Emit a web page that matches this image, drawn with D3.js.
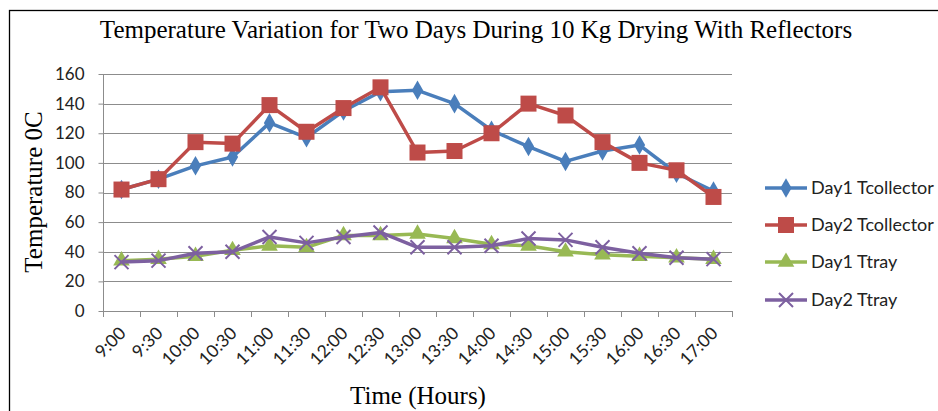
<!DOCTYPE html>
<html>
<head>
<meta charset="utf-8">
<script src="https://cdn.jsdelivr.net/npm/d3@7"></script>
<style>
  html, body { margin: 0; padding: 0; background: #fff; }
  svg { display: block; }
</style>
</head>
<body>
<svg id="chart" width="938" height="411"></svg>
<script>
const categories = ["9:00","9:30","10:00","10:30","11:00","11:30","12:00","12:30","13:00","13:30","14:00","14:30","15:00","15:30","16:00","16:30","17:00"];
const day1Tcollector = [82, 89, 98, 104, 127, 117, 135, 148, 149, 140, 122, 111, 101, 108, 112, 93, 81];
const day2Tcollector = [82, 89, 114, 113, 139, 121, 137, 151, 107, 108, 120, 140, 132, 114, 100, 95, 77];
const day1Ttray = [34, 35, 37, 41, 44, 43, 51, 51, 52, 49, 45, 44, 40, 38, 37, 36, 35];
const day2Ttray = [33, 34, 39, 40, 50, 46, 50, 53, 43, 43, 44, 49, 48, 43, 39, 36, 35];
const yTicks = [0, 20, 40, 60, 80, 100, 120, 140, 160];
const seriesNames = ["Day1 Tcollector", "Day2 Tcollector", "Day1 Ttray", "Day2 Ttray"];
const seriesColors = ["#4a7ebb", "#be4b48", "#98b954", "#7d60a0"];
const seriesShapes = ["diamond", "square", "triangle", "cross"];

(function () {
const series = [day1Tcollector, day2Tcollector, day1Ttray, day2Ttray].map((v, i) => ({
  name: seriesNames[i], values: v, color: seriesColors[i], shape: seriesShapes[i]
}));

const svg = d3.select("#chart");
const pLeft = 103, pRight = 732, pTop = 74, pBottom = 311;
const sans = "Lato, 'Open Sans', sans-serif";
const serif = "'Liberation Serif', 'Times New Roman', serif";

svg.append("rect").attr("x", 9.5).attr("y", 10.5).attr("width", 940).attr("height", 420)
  .attr("fill", "none").attr("stroke", "#000").attr("stroke-width", 1.3);

const x = d3.scaleBand().domain(categories).range([pLeft, pRight]).padding(0);
const y = d3.scaleLinear().domain([0, 160]).range([pBottom, pTop]);

svg.append("g").selectAll("line").data(yTicks.filter(d => d > 0)).join("line")
  .attr("x1", pLeft).attr("x2", pRight)
  .attr("y1", d => Math.round(y(d)) + 0.5).attr("y2", d => Math.round(y(d)) + 0.5)
  .attr("stroke", "#8c8c8c").attr("stroke-width", 1);

const yAxis = svg.append("g").attr("transform", `translate(${pLeft + 0.5},0)`)
  .call(d3.axisLeft(y).tickValues(yTicks).tickSize(5).tickPadding(14).tickFormat(d3.format("d")));
yAxis.select(".domain").attr("stroke", "#8c8c8c").attr("d", `M0,${pTop}V${pBottom}`);
yAxis.selectAll(".tick line").attr("stroke", "#8c8c8c");
yAxis.selectAll(".tick text").attr("font-family", sans)
  .attr("font-size", 17).attr("fill", "#222");

const xAxis = svg.append("g").attr("transform", `translate(0,${pBottom + 0.5})`)
  .call(d3.axisBottom(x).tickSize(0).tickFormat(""));
xAxis.select(".domain").attr("stroke", "#8c8c8c").attr("d", `M${pLeft},0H${pRight}`);
const bounds = categories.map(c => x(c)).concat([pRight]);
svg.append("g").selectAll("line").data(bounds).join("line")
  .attr("x1", d => Math.round(d) + 0.5).attr("x2", d => Math.round(d) + 0.5)
  .attr("y1", pBottom).attr("y2", pBottom + 6)
  .attr("stroke", "#8c8c8c");
svg.append("g").selectAll("text").data(categories).join("text")
  .attr("transform", d => `translate(${x(d) + x.bandwidth() / 2 + 1},${pBottom + 19}) rotate(-45)`)
  .attr("text-anchor", "end").attr("dy", "0.35em")
  .attr("font-family", sans).attr("font-size", 17.5).attr("fill", "#222")
  .text(d => d);

const line = d3.line().x((d, i) => x(categories[i]) + x.bandwidth() / 2).y(d => y(d));
function marker(g, shape, color, size) {
  if (shape === "diamond") {
    g.append("path").attr("d", d3.symbol(d3.symbolDiamond, size * 11)()).attr("fill", color);
  } else if (shape === "square") {
    g.append("rect").attr("x", -size / 2 - 3).attr("y", -size / 2 - 3).attr("width", size + 6).attr("height", size + 6)
      .attr("fill", color);
  } else if (shape === "triangle") {
    g.append("path").attr("d", d3.symbol(d3.symbolTriangle, size * 12)()).attr("fill", color);
  } else {
    const s = size / 2 + 2;
    g.append("path").attr("d", `M${-s},${-s}L${s},${s}M${-s},${s}L${s},${-s}`)
      .attr("stroke", color).attr("stroke-width", 2).attr("fill", "none");
  }
}
series.forEach(s => {
  svg.append("path").datum(s.values).attr("d", line)
    .attr("fill", "none").attr("stroke", s.color).attr("stroke-width", 3.5).attr("stroke-linejoin", "round");
  const g = svg.append("g");
  s.values.forEach((v, i) => {
    const mg = g.append("g").attr("transform", `translate(${x(categories[i]) + x.bandwidth() / 2},${y(v)})`);
    marker(mg, s.shape, s.color, 10);
  });
});

const legY = [188, 225, 262, 300];
series.forEach((s, i) => {
  const g = svg.append("g").attr("transform", `translate(765,${legY[i]})`);
  g.append("line").attr("x1", 0).attr("x2", 42).attr("y1", 0).attr("y2", 0)
    .attr("stroke", s.color).attr("stroke-width", 3.5);
  const mg = g.append("g").attr("transform", "translate(21,0)");
  marker(mg, s.shape, s.color, 10);
  g.append("text").attr("x", 46).attr("y", 0).attr("dy", "0.35em")
    .attr("font-family", sans).attr("font-size", 18).attr("fill", "#222")
    .text(s.name);
});

svg.append("text").attr("x", 476).attr("y", 38).attr("text-anchor", "middle")
  .attr("font-family", serif).attr("font-size", 25).attr("fill", "#000")
  .text("Temperature Variation for Two Days During 10 Kg Drying With Reflectors");

svg.append("text").attr("transform", "translate(42,192) rotate(-90)").attr("text-anchor", "middle")
  .attr("font-family", serif).attr("font-size", 25).attr("fill", "#000")
  .text("Temperature 0C");
svg.append("text").attr("x", 418).attr("y", 404).attr("text-anchor", "middle")
  .attr("font-family", serif).attr("font-size", 25).attr("fill", "#000")
  .text("Time (Hours)");
})();
</script>
</body>
</html>
